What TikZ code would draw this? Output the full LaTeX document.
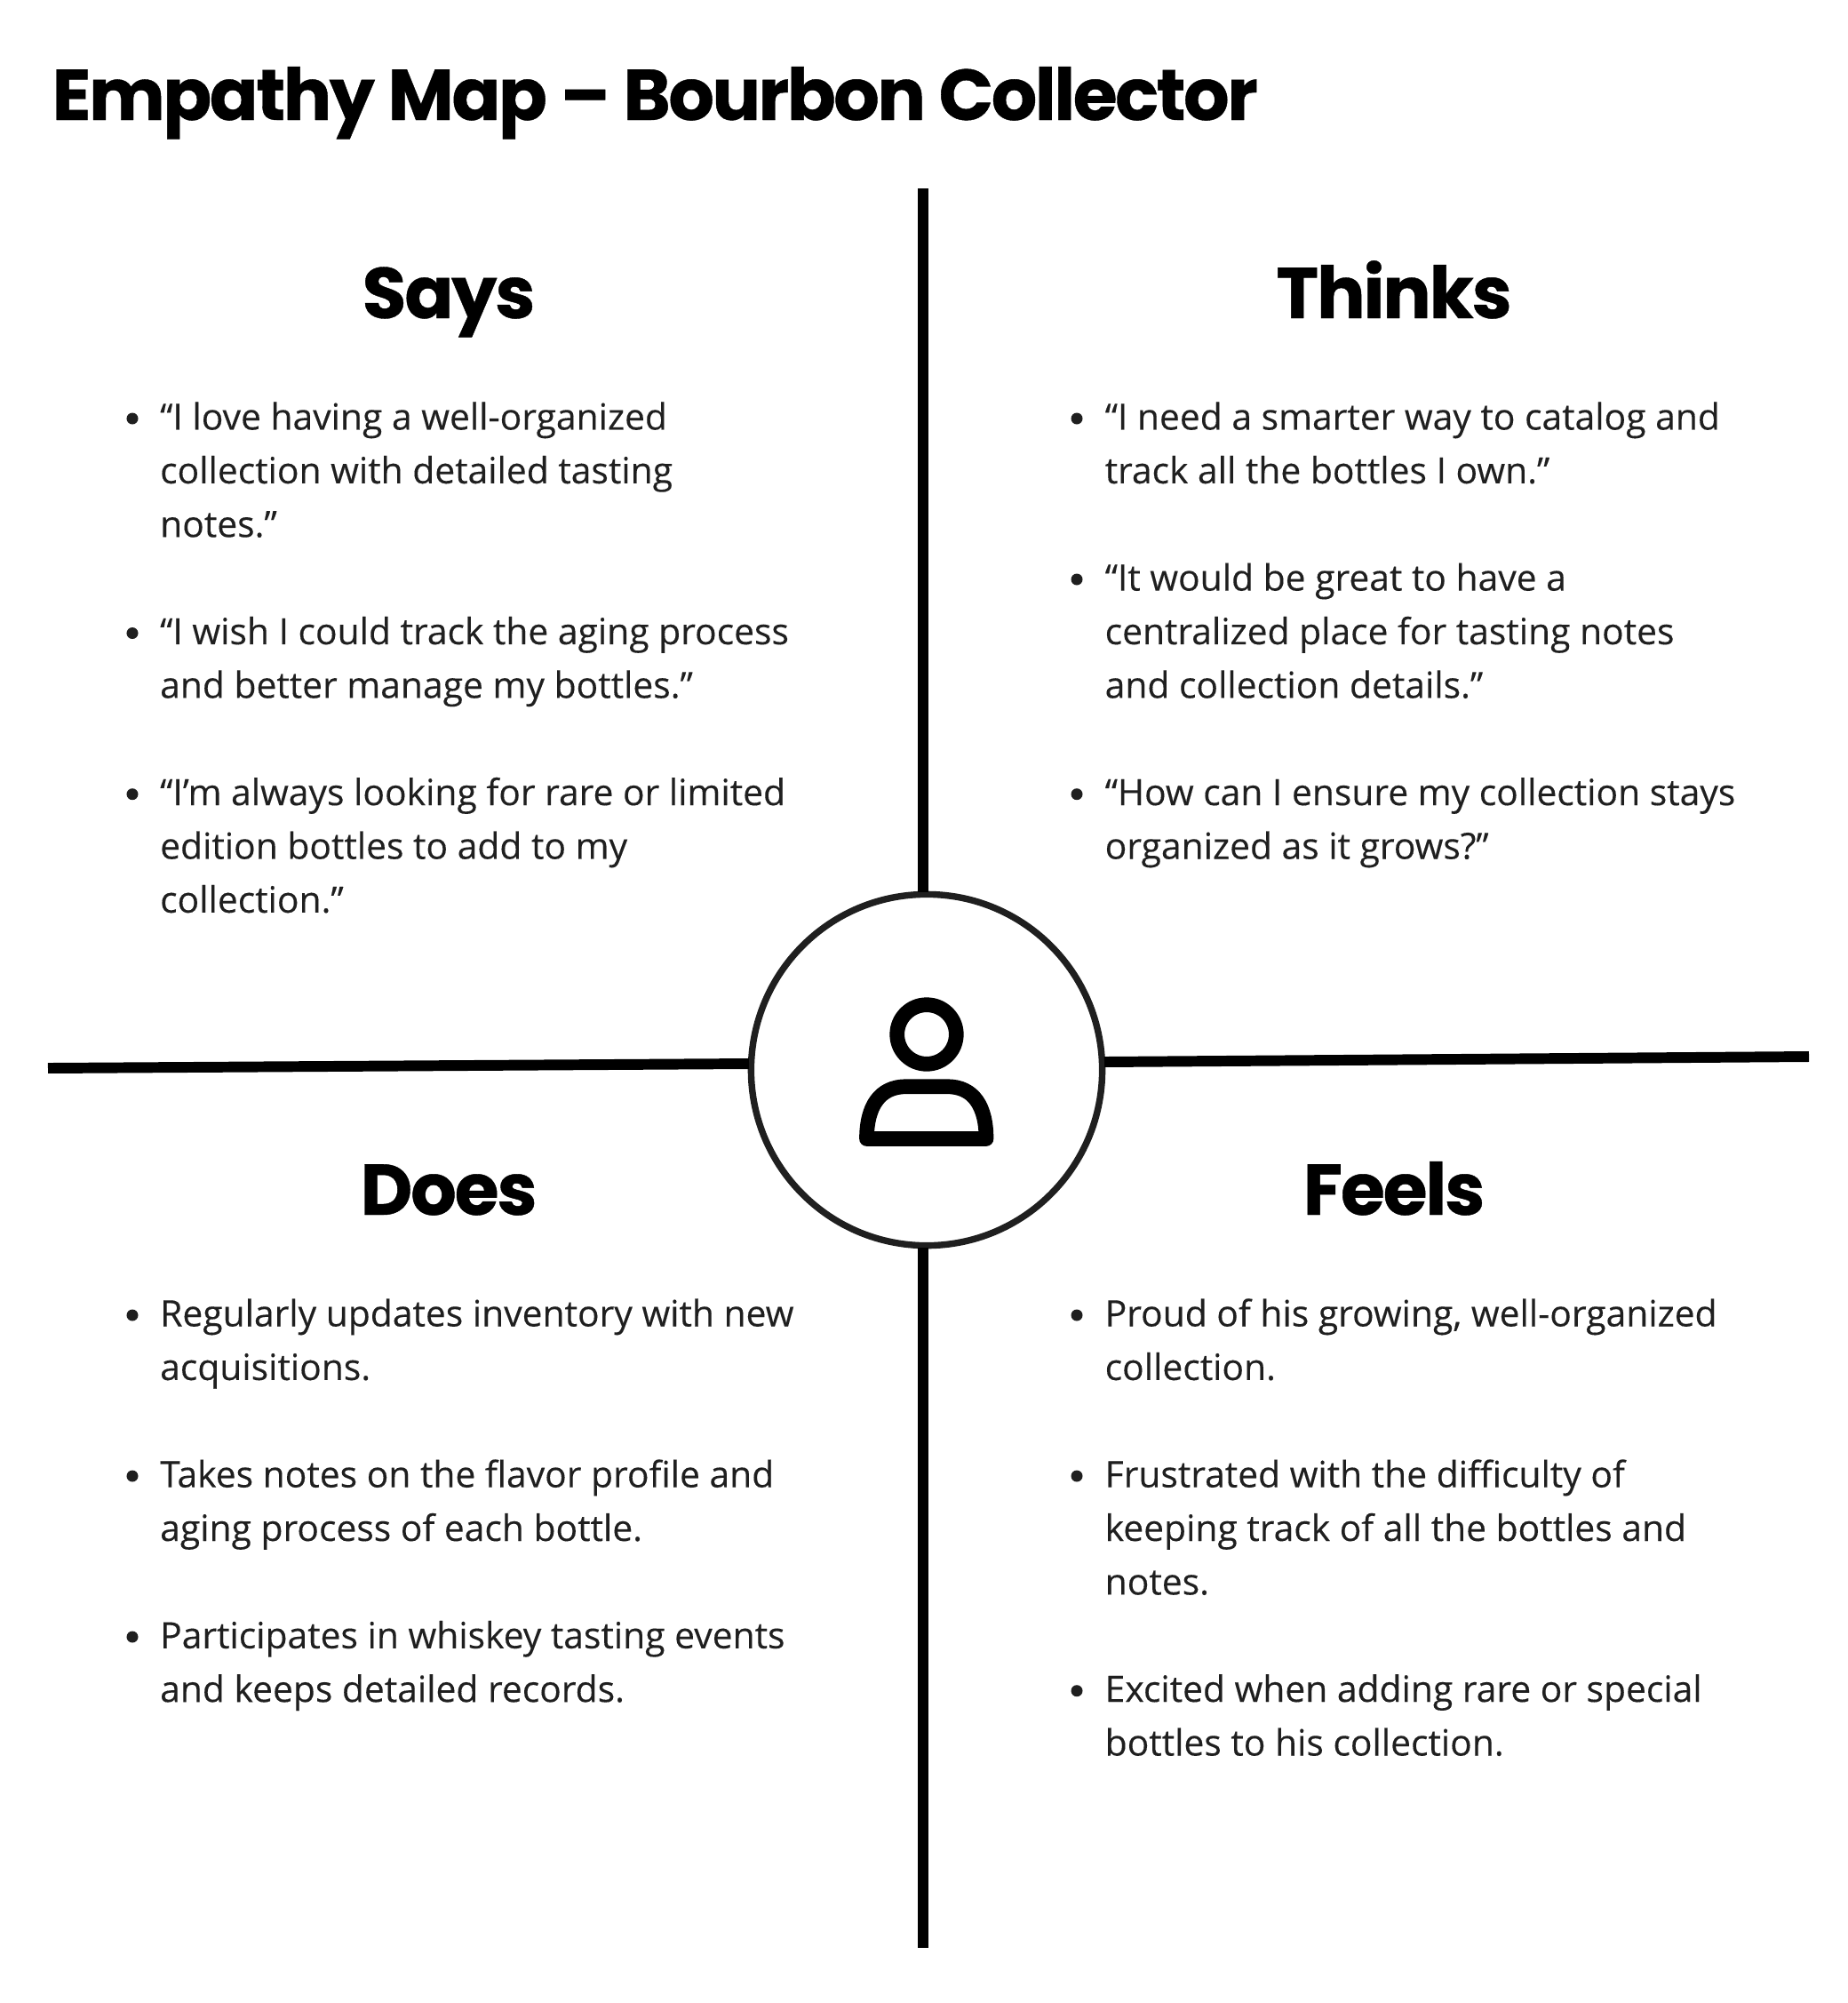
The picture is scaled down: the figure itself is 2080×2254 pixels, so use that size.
\documentclass[tikz,border=0pt]{standalone}
\usepackage{fontspec}
\setmainfont{Open Sans}[FakeBold=0.2]
\newfontfamily\headfont{Poppins Bold}[LetterSpace=-2.6,FakeBold=0.5]
\newfontfamily\titlefont{Poppins Bold}[LetterSpace=-3,FakeBold=0.5]
\tikzset{x=0.01cm,y=-0.01cm,
 bodytext/.style={anchor=base west,inner sep=0pt,align=left,font=\fontsize{11.6}{17.18}\selectfont,text=black!88},
 head/.style={anchor=base,inner sep=0pt,font=\headfont\fontsize{23}{26}\selectfont},
 titletext/.style={anchor=base west,inner sep=0pt,font=\titlefont\fontsize{23}{26}\selectfont},
 axis/.style={line width=3.4pt,black},
 dot/.style={circle,fill=black!88,inner sep=0pt,minimum size=0.13cm},
 icon/.style={line width=4.75pt,black,line join=round}}
\begin{document}
\begin{tikzpicture}
\useasboundingbox (0,0) rectangle (2080,2254);
\node[titletext] (title) at (58,135) {Empathy Map – Bourbon Collector};
\node[circle,draw=black!88,line width=2.1pt,minimum size=3.95cm,inner sep=0pt] (hub) at (1043,1204) {};
\coordinate (vt) at (1039,212); \coordinate (vb) at (1039,2192);
\coordinate (hl) at (54,1202); \coordinate (hr) at (2036,1189);
\draw[axis] (vt) -- (1039,1004);
\draw[axis] (1039,1404) -- (vb);
\draw[axis] (hl) -- (843,1197);
\draw[axis] (1243,1195) -- (hr);
\draw[icon] (1043,1164) circle (33.3);
\draw[icon] (975.5,1281.5) .. controls (975.5,1245) and (990,1222.7) .. (1020,1222.7) -- (1066,1222.7) .. controls (1096,1222.7) and (1110,1245) .. (1110,1281.5) -- cycle;
\node[head] (says) at (505,358) {Says};
\node[head] (thinks) at (1569,358) {Thinks};
\node[head] (does) at (505,1367) {Does};
\node[head] (feels) at (1569,1367) {Feels};
% Says
\node[dot] (sb1) at (149,471) {};
\node[dot] (sb2) at (149,712.5) {};
\node[dot] (sb3) at (149,893.7) {};
\node[bodytext] (s1) at (179.5,604.3) {“I love having a well-organized\\collection with detailed tasting\\notes.”};
\node[bodytext] (s2) at (179.5,785.4) {“I wish I could track the aging process\\and better manage my bottles.”};
\node[bodytext] (s3) at (179.5,1026.9) {“I’m always looking for rare or limited\\edition bottles to add to my\\collection.”};
% Thinks
\node[dot] (tb1) at (1212,471) {};
\node[dot] (tb2) at (1212,652) {};
\node[dot] (tb3) at (1212,893.7) {};
\node[bodytext] (t1) at (1243,543.9) {“I need a smarter way to catalog and\\track all the bottles I own.”};
\node[bodytext] (t2) at (1243,785.4) {“It would be great to have a\\centralized place for tasting notes\\and collection details.”};
\node[bodytext] (t3) at (1243,966.5) {“How can I ensure my collection stays\\organized as it grows?”};
% Does
\node[dot] (db1) at (149,1480) {};
\node[dot] (db2) at (149,1661) {};
\node[dot] (db3) at (149,1842) {};
\node[bodytext] (d1) at (179.5,1552.9) {Regularly updates inventory with new\\acquisitions.};
\node[bodytext] (d2) at (179.5,1734) {Takes notes on the flavor profile and\\aging process of each bottle.};
\node[bodytext] (d3) at (179.5,1915.2) {Participates in whiskey tasting events\\and keeps detailed records.};
% Feels
\node[dot] (fb1) at (1212,1480) {};
\node[dot] (fb2) at (1212,1661) {};
\node[dot] (fb3) at (1212,1902.7) {};
\node[bodytext] (f1) at (1243,1552.9) {Proud of his growing, well-organized\\collection.};
\node[bodytext] (f2) at (1243,1794.4) {Frustrated with the difficulty of\\keeping track of all the bottles and\\notes.};
\node[bodytext] (f3) at (1243,1975.5) {Excited when adding rare or special\\bottles to his collection.};
\end{tikzpicture}
\end{document}
